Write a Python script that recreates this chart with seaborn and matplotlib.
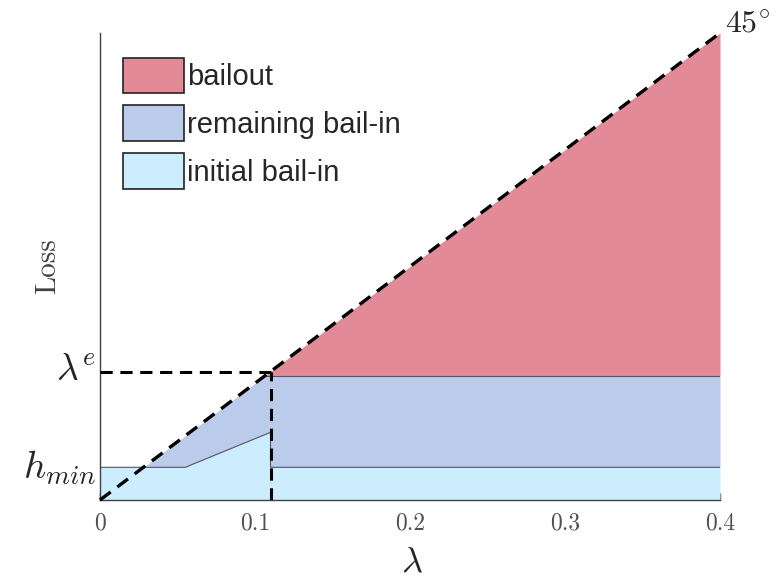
"""
Loss split into initial bail-in, remaining bail-in and bailout as a function of lambda
"""

import numpy as np
import pandas as pd
import seaborn as sns
import matplotlib.pyplot as plt

sns.set_theme(style="white")
plt.rcParams['mathtext.fontset'] = 'cm'
plt.rcParams['axes.unicode_minus'] = False

# Podaci (procitani sa slike)
h_min = 0.028
lam_e = 0.11
lam = [0.0, 0.028, 0.055, 0.106, 0.11, 0.11, 0.4]
initial_top = [0.028, 0.028, 0.028, 0.0558, 0.058, 0.028, 0.028]
remaining_top = [0.028, 0.028, 0.055, 0.106, 0.106, 0.106, 0.106]
bail_lam = [0.106, 0.4]
bail_bottom = [0.106, 0.106]
bail_top = [0.106, 0.4]
diag = pd.DataFrame({'lam': [0.0, 0.4], 'loss': [0.0, 0.4]})
x_ticks = [0, 0.1, 0.2, 0.3, 0.4]
x_tick_labels = ['0', '0.1', '0.2', '0.3', '0.4']

c_bailout = '#E28A97'
c_remaining = '#BBCBEC'
c_initial = '#CCEDFD'

fig = plt.figure(figsize=(7.79, 5.79), dpi=100)
ax = fig.add_axes([100 / 779, 79 / 579, 620 / 779, 467 / 579])

# oblasti
ax.fill_between(lam, 0, initial_top, color=c_initial, lw=0, label='initial bail-in', zorder=1)
ax.fill_between(lam, initial_top, remaining_top, color=c_remaining, lw=0, label='remaining bail-in', zorder=1)
ax.fill_between(bail_lam, bail_bottom, bail_top, color=c_bailout, lw=0, label='bailout', zorder=1)

# tanke ivice
ax.plot(lam, initial_top, color='#555566', lw=0.8, zorder=2)
ax.plot(lam[3:], remaining_top[3:], color='#555566', lw=0.8, zorder=2)

# 45 stepeni linija
sns.lineplot(data=diag, x='lam', y='loss', ax=ax, color='black', lw=2.4,
             linestyle=(0, (4, 2.5)), zorder=4, clip_on=False)
# isprekidane linije za lambda^e
ax.plot([0, lam_e], [lam_e, lam_e], color='black', lw=2.2, linestyle=(0, (4, 2.5)), zorder=4)
ax.plot([lam_e, lam_e], [0, lam_e], color='black', lw=2.2, linestyle=(0, (4, 2.5)), zorder=4)

ax.set_xlim(0, 0.4)
ax.set_ylim(0, 0.4)
ax.set_xticks(x_ticks)
ax.set_xticklabels(x_tick_labels, fontfamily='cmr10', fontsize=17, color='#505050')
ax.set_yticks([])
ax.tick_params(axis='x', direction='in', length=5, width=1, color='#404040', bottom=True, pad=9)
ax.set_xlabel('')
ax.set_ylabel('Loss', fontfamily='cmr10', fontsize=21, color='#404040', labelpad=28)
for side in ['top', 'right']:
    ax.spines[side].set_visible(False)
for side in ['left', 'bottom']:
    ax.spines[side].set_color('#404040')
    ax.spines[side].set_linewidth(1.0)

# legenda
handles, labels = ax.get_legend_handles_labels()
order = [2, 1, 0]
leg = ax.legend([handles[i] for i in order], [labels[i] for i in order],
                loc='upper left', bbox_to_anchor=(0.009, 0.985), frameon=False,
                prop={'family': 'Liberation Sans', 'size': 21},
                handlelength=2.1, handleheight=1.5, handletextpad=0.1,
                labelspacing=0.42, borderaxespad=0.2)
for p in leg.get_patches():
    p.set_edgecolor('#222222')
    p.set_linewidth(1.2)

# tekstovi
fig.text(725 / 779, 1 - 24 / 579, r'$45^{\circ}$', fontsize=23, va='center', ha='left')
fig.text(96 / 779, 1 - 370 / 579, r'$\lambda^{e}$', fontsize=27, va='center', ha='right')
fig.text(96 / 779, 1 - 468 / 579, r'$h_{min}$', fontsize=28, va='center', ha='right')
fig.text(412 / 779, 1 - 562 / 579, r'$\lambda$', fontsize=26, va='center', ha='center')

plt.savefig('out.png', dpi=100)
